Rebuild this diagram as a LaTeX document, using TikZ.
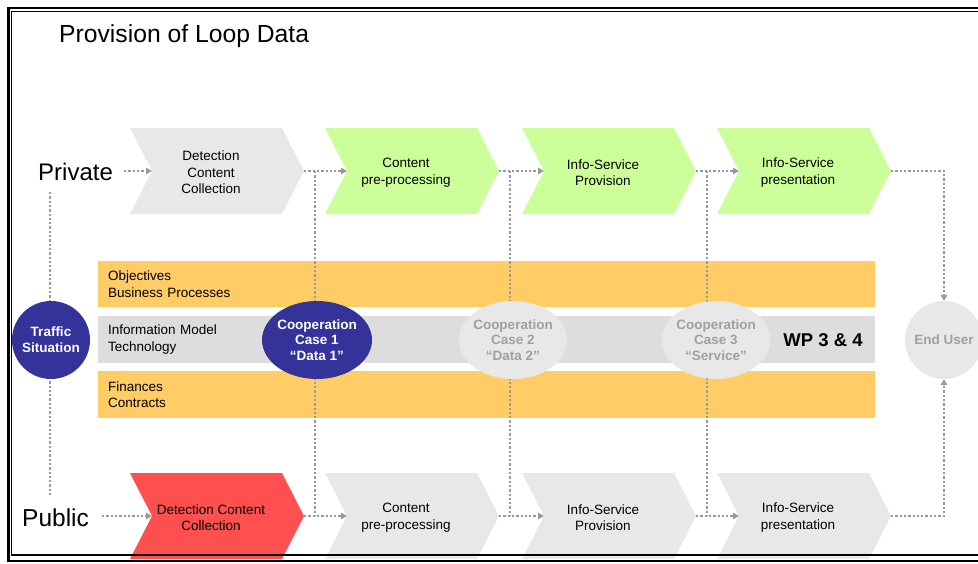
\documentclass[tikz,border=0pt]{standalone}
\usepackage{fontspec}
\setmainfont{Liberation Sans}
\usetikzlibrary{arrows.meta,calc,shapes.geometric}

\definecolor{chevgray}{HTML}{E8E8E8}
\definecolor{chevgreen}{HTML}{CCFF99}
\definecolor{chevred}{HTML}{FF5050}
\definecolor{bandorange}{HTML}{FFCC66}
\definecolor{bandgray}{HTML}{DDDDDD}
\definecolor{deepblue}{HTML}{333399}
\definecolor{palegray}{HTML}{E8E8E8}
\definecolor{fadedtext}{HTML}{A0A0A0}
\definecolor{dotgray}{HTML}{999999}

% chevron: name, left x, centre y, fill colour, label
\newcommand\mkchev[5]{%
  \fill[#4] (#2,#3-43) -- ++(152,0) -- ++(22,43) -- ++(-22,43) -- ++(-152,0) -- ++(22,-43) -- cycle;
  \coordinate (#1in) at (#2+22,#3);
  \coordinate (#1tip) at (#2+174,#3);
  \node[chevtext] (#1) at (#2+81,#3+1.5) {#5};
}

\begin{document}
\begin{tikzpicture}[x=1pt,y=-1pt,
  small/.style={font=\fontsize{13.5}{16.5}\selectfont},
  chevtext/.style={small,align=center,inner sep=0pt},
  bigtext/.style={font=\fontsize{24}{28}\selectfont,inner sep=0pt},
  band/.style={rectangle,anchor=north west,small,text width=757pt,inner xsep=10pt,inner ysep=0pt,align=left},
  flow/.style={draw=dotgray,line width=2.3pt,dash pattern=on 2.3pt off 2pt},
  flowarrow/.style={flow,-{Triangle[length=6pt,width=6.5pt]}},
  coopshape/.style={ellipse,inner sep=0pt,minimum height=78pt},
  cooptext/.style={align=center,inner sep=0pt,font=\bfseries\fontsize{13.5}{15.5}\selectfont},
  roundshape/.style={circle,inner sep=0pt,minimum size=78pt,align=center,font=\bfseries\fontsize{13.5}{16}\selectfont}]

\useasboundingbox (0,0) rectangle (978,563);

% title and row labels
\node[bigtext,font=\fontsize{24.7}{28}\selectfont,anchor=base west] (title) at (59,42) {Provision of Loop Data};
\node[bigtext,anchor=base west] (priv) at (38,180) {Private};
\node[bigtext,font=\fontsize{24.5}{28}\selectfont,anchor=base west] (pub) at (22,526) {Public};

% process chevrons, private row
\mkchev{ta}{130}{171}{chevgray}{Detection\\Content\\Collection}
\mkchev{tb}{325}{171}{chevgreen}{Content\\pre-processing}
\mkchev{tc}{522}{171}{chevgreen}{Info-Service\\Provision}
\mkchev{td}{717}{171}{chevgreen}{Info-Service\\presentation}

% process chevrons, public row
\mkchev{ba}{130}{516}{chevred}{Detection Content\\Collection}
\mkchev{bb}{325}{516}{chevgray}{Content\\pre-processing}
\mkchev{bc}{522}{516}{chevgray}{Info-Service\\Provision}
\mkchev{bd}{717}{516}{chevgray}{Info-Service\\presentation}

% horizontal bands
\node[band,fill=bandorange,minimum height=46pt] (obj) at (98,261) {Objectives\\Business Processes};
\node[band,fill=bandgray,minimum height=47pt] (info) at (98,316) {Information Model\\Technology};
\node[band,fill=bandorange,minimum height=47pt] (fin) at (98,371) {Finances\\Contracts};
\node[font=\bfseries\fontsize{18.5}{20}\selectfont,inner sep=0pt] (wp) at (823,340) {WP 3 \& 4};

% end user circle
\node[roundshape,fill=palegray,text=fadedtext] (user) at (944,340) {End User};

% flow connectors
\coordinate (lt) at (50,192);
\coordinate (lb) at (50,495);
\draw[flow] (lt) -- (lb);
\draw[flowarrow] ($(priv.east |- tain)+(11,0)$) -- (tain);
\draw[flowarrow] ($(pub.east |- bain)+(13,0)$) -- (bain);
\draw[flowarrow] (tatip) -- (tbin);
\draw[flowarrow] (tbtip) -- (tcin);
\draw[flowarrow] (tctip) -- (tdin);
\draw[flowarrow] (batip) -- (bbin);
\draw[flowarrow] (bbtip) -- (bcin);
\draw[flowarrow] (bctip) -- (bdin);
\draw[flow] ($(tatip)+(11,0)$) -- ($(batip)+(11,0)$);
\draw[flow] ($(tbtip)+(11,0)$) -- ($(bbtip)+(11,0)$);
\draw[flow] ($(tctip)+(11,0)$) -- ($(bctip)+(11,0)$);
\draw[flowarrow] (tdtip) -| (user.north);
\draw[flowarrow] (bdtip) -| (user.south);

% round shapes drawn over the connectors
\node[roundshape,fill=deepblue,text=white] (traffic) at (51,340) {Traffic\\Situation};
\node[coopshape,fill=deepblue,minimum width=110pt] (ca) at (317,340) {};
\node[coopshape,fill=palegray,minimum width=108pt] (cb) at (513,340) {};
\node[coopshape,fill=palegray,minimum width=108pt] (cc) at (716,340) {};
\node[cooptext,text=white] (cat) at (ca) {Cooperation\\Case 1\\“Data 1”};
\node[cooptext,text=fadedtext] (cbt) at (cb) {Cooperation\\Case 2\\“Data 2”};
\node[cooptext,text=fadedtext] (cct) at (cc) {Cooperation\\Case 3\\“Service”};

% double frame
\draw[line width=2.5pt] (978,8) -- (8.3,8) -- (8.3,561) -- (978,561);
\draw[line width=1.2pt] (978,11.7) -- (11.8,11.7) -- (11.8,555) -- (978,555);
\end{tikzpicture}
\end{document}
